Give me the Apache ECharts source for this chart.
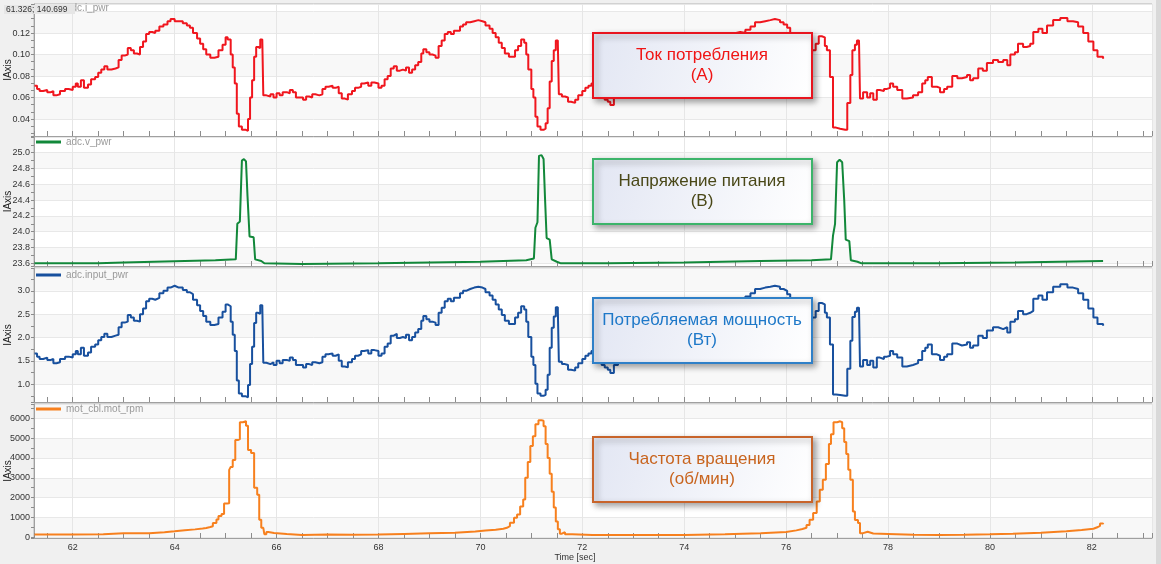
<!DOCTYPE html>
<html>
<head>
<meta charset="utf-8">
<script src="https://cdn.jsdelivr.net/npm/echarts@6/dist/echarts.min.js"></script>
<style>
html, body { margin: 0; padding: 0; background: #f0f0f0; }
#main { width: 1161px; height: 564px; }
</style>
</head>
<body>
<div id="main"></div>
<script>
// sample times (s) for current and input power
const tPwr = [
  61.25, 61.30, 61.35, 61.42, 61.50, 61.57, 61.62, 61.68, 61.75, 61.85, 61.92, 62.00, 62.06, 62.10, 62.16, 62.22,
  62.30, 62.36, 62.44, 62.50, 62.56, 62.62, 62.68, 62.76, 62.84, 62.90, 62.96, 63.02, 63.08, 63.14, 63.20, 63.26,
  63.32, 63.38, 63.44, 63.50, 63.56, 63.62, 63.70, 63.78, 63.86, 63.92, 64.00, 64.08, 64.16, 64.24, 64.30, 64.36,
  64.44, 64.50, 64.56, 64.62, 64.70, 64.78, 64.86, 64.94, 65.00, 65.04, 65.10, 65.14, 65.18, 65.22, 65.26, 65.32,
  65.40, 65.44, 65.48, 65.52, 65.56, 65.60, 65.64, 65.68, 65.72, 65.74, 65.80, 65.88, 65.94, 66.00, 66.06, 66.12,
  66.20, 66.26, 66.32, 66.38, 66.46, 66.52, 66.58, 66.64, 66.70, 66.76, 66.84, 66.90, 66.96, 67.02, 67.10, 67.16,
  67.22, 67.28, 67.34, 67.40, 67.48, 67.54, 67.60, 67.66, 67.72, 67.80, 67.86, 67.92, 68.00, 68.06, 68.12, 68.18,
  68.24, 68.30, 68.36, 68.42, 68.48, 68.54, 68.60, 68.66, 68.72, 68.78, 68.84, 68.88, 68.94, 69.00, 69.06, 69.12,
  69.18, 69.24, 69.30, 69.36, 69.42, 69.48, 69.54, 69.60, 69.66, 69.72, 69.80, 69.88, 69.96, 70.04, 70.10, 70.18,
  70.24, 70.30, 70.36, 70.42, 70.48, 70.56, 70.62, 70.68, 70.74, 70.80, 70.86, 70.90, 70.94, 71.00, 71.04, 71.08,
  71.12, 71.18, 71.24, 71.28, 71.32, 71.36, 71.40, 71.44, 71.48, 71.52, 71.54, 71.60, 71.66, 71.72, 71.78, 71.86,
  71.92, 72.00, 72.06, 72.12, 72.18, 72.24, 72.30, 72.38, 72.44, 72.50, 72.55, 72.62, 72.70, 72.78, 72.86, 72.94,
  73.02, 73.10, 73.18, 73.26, 73.34, 73.42, 73.50, 73.58, 73.66, 73.74, 73.82, 73.90, 73.98, 74.06, 74.14, 74.22,
  74.30, 74.38, 74.46, 74.54, 74.62, 74.70, 74.78, 74.86, 74.94, 75.02, 75.10, 75.20, 75.30, 75.39, 75.49, 75.59,
  75.69, 75.78, 75.88, 75.95, 76.02, 76.08, 76.16, 76.24, 76.32, 76.40, 76.46, 76.51, 76.58, 76.64, 76.70, 76.76,
  76.80, 76.86, 76.92, 76.98, 77.06, 77.16, 77.20, 77.26, 77.30, 77.35, 77.39, 77.43, 77.45, 77.51, 77.59, 77.65,
  77.71, 77.78, 77.84, 77.92, 77.98, 78.04, 78.10, 78.18, 78.28, 78.37, 78.49, 78.59, 78.67, 78.73, 78.78, 78.86,
  78.96, 79.02, 79.10, 79.16, 79.26, 79.36, 79.45, 79.55, 79.61, 79.67, 79.77, 79.86, 79.94, 80.06, 80.16, 80.26,
  80.34, 80.40, 80.49, 80.55, 80.65, 80.72, 80.79, 80.85, 80.95, 81.03, 81.12, 81.24, 81.38, 81.52, 81.63, 81.73,
  81.83, 81.93, 82.03, 82.11, 82.22
];
// adc.i_pwr, A
const curA = [
  0.071, 0.068, 0.066, 0.067, 0.065, 0.066, 0.062, 0.063, 0.066, 0.068, 0.067, 0.070, 0.073, 0.070, 0.076, 0.069,
  0.072, 0.077, 0.079, 0.083, 0.086, 0.089, 0.086, 0.087, 0.088, 0.095, 0.099, 0.100, 0.106, 0.104, 0.101, 0.100,
  0.107, 0.112, 0.119, 0.121, 0.120, 0.122, 0.126, 0.128, 0.131, 0.133, 0.131, 0.131, 0.129, 0.127, 0.125, 0.120,
  0.115, 0.110, 0.105, 0.100, 0.097, 0.098, 0.104, 0.109, 0.116, 0.114, 0.100, 0.088, 0.073, 0.045, 0.033, 0.030,
  0.029, 0.040, 0.060, 0.076, 0.098, 0.107, 0.106, 0.114, 0.114, 0.062, 0.061, 0.063, 0.060, 0.064, 0.062, 0.065,
  0.064, 0.067, 0.065, 0.060, 0.060, 0.058, 0.061, 0.060, 0.063, 0.062, 0.063, 0.068, 0.070, 0.071, 0.069, 0.070,
  0.064, 0.059, 0.058, 0.063, 0.066, 0.069, 0.070, 0.073, 0.074, 0.071, 0.074, 0.073, 0.069, 0.071, 0.077, 0.080,
  0.087, 0.089, 0.085, 0.086, 0.085, 0.088, 0.083, 0.086, 0.090, 0.093, 0.101, 0.105, 0.102, 0.100, 0.099, 0.097,
  0.108, 0.113, 0.119, 0.121, 0.119, 0.122, 0.122, 0.126, 0.128, 0.130, 0.131, 0.132, 0.131, 0.130, 0.127, 0.124,
  0.120, 0.116, 0.111, 0.106, 0.101, 0.098, 0.098, 0.104, 0.108, 0.114, 0.111, 0.100, 0.086, 0.068, 0.060, 0.042,
  0.033, 0.030, 0.031, 0.036, 0.050, 0.075, 0.094, 0.104, 0.113, 0.110, 0.063, 0.061, 0.060, 0.056, 0.055, 0.058,
  0.062, 0.066, 0.069, 0.071, 0.073, 0.069, 0.065, 0.060, 0.058, 0.056, 0.053, 0.060, 0.064, 0.066, 0.070, 0.069,
  0.072, 0.075, 0.073, 0.076, 0.079, 0.077, 0.080, 0.086, 0.088, 0.087, 0.091, 0.089, 0.094, 0.100, 0.104, 0.102,
  0.106, 0.104, 0.110, 0.114, 0.112, 0.116, 0.118, 0.117, 0.120, 0.121, 0.120, 0.123, 0.126, 0.130, 0.131, 0.132,
  0.133, 0.132, 0.130, 0.128, 0.125, 0.120, 0.114, 0.108, 0.103, 0.100, 0.101, 0.104, 0.110, 0.117, 0.116, 0.108,
  0.104, 0.079, 0.032, 0.031, 0.030, 0.030, 0.055, 0.081, 0.104, 0.109, 0.113, 0.113, 0.059, 0.065, 0.060, 0.064,
  0.058, 0.067, 0.066, 0.068, 0.069, 0.073, 0.070, 0.067, 0.059, 0.060, 0.062, 0.065, 0.073, 0.076, 0.079, 0.070,
  0.069, 0.065, 0.068, 0.070, 0.080, 0.078, 0.079, 0.081, 0.076, 0.078, 0.087, 0.085, 0.092, 0.095, 0.093, 0.095,
  0.090, 0.100, 0.102, 0.110, 0.107, 0.108, 0.110, 0.121, 0.124, 0.120, 0.127, 0.132, 0.134, 0.131, 0.130, 0.126,
  0.120, 0.112, 0.104, 0.098, 0.096
];
// adc.input_pwr, W
const pwrW = [
  1.66, 1.59, 1.54, 1.57, 1.52, 1.54, 1.45, 1.47, 1.54, 1.59, 1.57, 1.64, 1.71, 1.64, 1.78, 1.61,
  1.68, 1.80, 1.85, 1.94, 2.01, 2.08, 2.01, 2.04, 2.06, 2.22, 2.32, 2.34, 2.48, 2.43, 2.36, 2.34,
  2.50, 2.62, 2.78, 2.83, 2.81, 2.85, 2.95, 3.00, 3.07, 3.11, 3.07, 3.07, 3.02, 2.97, 2.93, 2.81,
  2.69, 2.57, 2.46, 2.34, 2.27, 2.29, 2.43, 2.55, 2.71, 2.67, 2.34, 2.06, 1.71, 1.08, 0.80, 0.74,
  0.72, 0.98, 1.43, 1.80, 2.31, 2.53, 2.51, 2.69, 2.69, 1.46, 1.43, 1.47, 1.41, 1.50, 1.45, 1.52,
  1.50, 1.57, 1.52, 1.41, 1.41, 1.36, 1.43, 1.41, 1.47, 1.45, 1.47, 1.59, 1.64, 1.66, 1.61, 1.64,
  1.50, 1.38, 1.36, 1.47, 1.54, 1.61, 1.64, 1.71, 1.73, 1.66, 1.73, 1.71, 1.61, 1.66, 1.80, 1.87,
  2.04, 2.08, 1.99, 2.01, 1.99, 2.06, 1.94, 2.01, 2.11, 2.18, 2.36, 2.46, 2.39, 2.34, 2.32, 2.27,
  2.53, 2.64, 2.78, 2.83, 2.78, 2.85, 2.85, 2.95, 3.00, 3.04, 3.07, 3.09, 3.07, 3.04, 2.97, 2.90,
  2.81, 2.71, 2.60, 2.48, 2.36, 2.29, 2.29, 2.43, 2.53, 2.67, 2.60, 2.34, 2.01, 1.59, 1.41, 1.01,
  0.80, 0.75, 0.77, 0.88, 1.20, 1.78, 2.21, 2.45, 2.65, 2.58, 1.48, 1.43, 1.41, 1.31, 1.29, 1.36,
  1.45, 1.54, 1.61, 1.66, 1.71, 1.61, 1.52, 1.41, 1.36, 1.31, 1.24, 1.41, 1.50, 1.54, 1.64, 1.61,
  1.68, 1.75, 1.71, 1.78, 1.85, 1.80, 1.87, 2.01, 2.06, 2.04, 2.13, 2.08, 2.20, 2.34, 2.43, 2.39,
  2.48, 2.43, 2.57, 2.67, 2.62, 2.71, 2.76, 2.74, 2.81, 2.83, 2.81, 2.88, 2.95, 3.04, 3.07, 3.09,
  3.11, 3.09, 3.04, 3.00, 2.93, 2.81, 2.67, 2.53, 2.41, 2.34, 2.36, 2.43, 2.57, 2.74, 2.71, 2.53,
  2.43, 1.85, 0.78, 0.77, 0.75, 0.75, 1.33, 1.93, 2.44, 2.55, 2.64, 2.64, 1.38, 1.52, 1.41, 1.50,
  1.36, 1.57, 1.54, 1.59, 1.61, 1.71, 1.64, 1.57, 1.38, 1.41, 1.45, 1.52, 1.71, 1.78, 1.85, 1.64,
  1.61, 1.52, 1.59, 1.64, 1.87, 1.83, 1.85, 1.90, 1.78, 1.83, 2.04, 1.99, 2.15, 2.22, 2.18, 2.22,
  2.11, 2.34, 2.39, 2.57, 2.50, 2.53, 2.57, 2.83, 2.90, 2.81, 2.97, 3.09, 3.14, 3.07, 3.04, 2.95,
  2.81, 2.62, 2.43, 2.29, 2.25
];
// adc.v_pwr, V
const tVolt = [
  61.25, 62.50, 63.00, 63.60, 64.20, 64.80, 65.20, 65.23, 65.28, 65.32, 65.36, 65.40, 65.43, 65.47, 65.55, 65.58,
  65.70, 65.76, 66.50, 68.00, 69.00, 70.00, 70.90, 71.05, 71.08, 71.12, 71.15, 71.20, 71.24, 71.27, 71.30, 71.36,
  71.40, 71.50, 71.58, 72.50, 74.00, 75.50, 76.50, 76.88, 76.92, 76.96, 77.00, 77.05, 77.10, 77.14, 77.17, 77.24,
  77.27, 77.40, 77.48, 79.00, 80.50, 82.22
];
const voltV = [
  23.60, 23.60, 23.61, 23.62, 23.63, 23.64, 23.65, 24.10, 24.13, 24.90, 24.92, 24.89, 24.45, 23.94, 23.93, 23.65,
  23.63, 23.60, 23.59, 23.60, 23.61, 23.62, 23.64, 23.66, 24.05, 24.12, 24.96, 24.97, 24.92, 24.40, 23.92, 23.90,
  23.65, 23.62, 23.60, 23.60, 23.61, 23.63, 23.64, 23.65, 23.95, 24.10, 24.88, 24.91, 24.88, 24.40, 23.90, 23.88,
  23.64, 23.62, 23.60, 23.60, 23.61, 23.63
];
// mot_cbl.mot_rpm
const tRpm = [
  61.25, 62.00, 62.60, 62.62, 63.00, 63.50, 63.80, 64.00, 64.20, 64.40, 64.55, 64.62, 64.70, 64.75, 64.82, 64.86,
  64.92, 64.97, 65.03, 65.07, 65.10, 65.14, 65.19, 65.24, 65.28, 65.34, 65.40, 65.44, 65.50, 65.56, 65.62, 65.66,
  65.70, 65.74, 65.76, 65.80, 65.84, 65.95, 66.20, 66.50, 67.00, 67.50, 68.00, 68.50, 69.00, 69.50, 69.90, 70.10,
  70.30, 70.45, 70.52, 70.58, 70.66, 70.72, 70.78, 70.84, 70.88, 70.93, 70.98, 71.03, 71.08, 71.14, 71.20, 71.24,
  71.28, 71.32, 71.36, 71.40, 71.44, 71.48, 71.52, 71.56, 71.60, 71.66, 71.80, 72.20, 73.00, 74.00, 74.80, 75.50,
  76.00, 76.20, 76.32, 76.40, 76.46, 76.53, 76.60, 76.66, 76.72, 76.78, 76.84, 76.88, 76.93, 77.00, 77.06, 77.10,
  77.14, 77.18, 77.22, 77.26, 77.31, 77.35, 77.41, 77.45, 77.51, 77.60, 77.71, 78.00, 78.50, 79.00, 79.50, 80.00,
  80.45, 81.00, 81.50, 81.80, 82.03, 82.12, 82.16, 82.22
];
const rpmV = [
  140, 150, 160, 200, 210, 260, 300, 360, 400, 440, 470, 520, 560, 720, 900, 1070,
  1180, 1700, 1720, 3400, 3550, 3900, 4900, 4950, 5800, 5860, 5620, 4400, 4250, 2500, 2150, 880,
  480, 400, 160, 270, 220, 170, 120, 140, 130, 140, 170, 200, 230, 290, 340, 380,
  430, 480, 560, 730, 980, 1150, 1550, 1900, 3000, 3800, 4600, 5100, 5700, 5900, 5880, 5600,
  4700, 4000, 3200, 2300, 1500, 800, 400, 180, 260, 150, 120, 110, 120, 150, 200, 270,
  350, 420, 480, 620, 880, 1220, 1800, 2400, 2900, 3700, 4700, 5200, 5800, 5850, 5800, 5500,
  4800, 4200, 3400, 2900, 1300, 870, 720, 210, 280, 190, 170, 130, 120, 130, 150, 180,
  230, 300, 370, 430, 520, 580, 700, 660
];

// tick labels
const xTicks = [62, 64, 66, 68, 70, 72, 74, 76, 78, 80, 82];
const curTicks = [0.04, 0.06, 0.08, 0.10, 0.12];
const voltTicks = [23.6, 23.8, 24.0, 24.2, 24.4, 24.6, 24.8, 25.0];
const pwrTicks = [1.0, 1.5, 2.0, 2.5, 3.0];
const rpmTicks = [0, 1000, 2000, 3000, 4000, 5000, 6000];

const seriesNames = ['adc.i_pwr', 'adc.v_pwr', 'adc.input_pwr', 'mot_cbl.mot_rpm'];
const colors = ['#f0161e', '#12883a', '#18509e', '#f7801e'];
const noteText = [
  ['Ток потребления', '(А)'],
  ['Напряжение питания', '(В)'],
  ['Потребляемая мощность', '(Вт)'],
  ['Частота вращения', '(об/мин)']
];
const noteBorder = ['#e8141e', '#3cb46a', '#2f80c8', '#c8642a'];
const noteInk = ['#f01414', '#4a4818', '#1e78c8', '#c8641e'];

const FONT = '"Liberation Sans", Arial, sans-serif';
const panels = [
  { top: 4, height: 132, min: 0.0242, max: 0.147, step: 0.02, minor: 3, ticks: curTicks, dec: 2, stepped: 'end' },
  { top: 137, height: 129, min: 23.566, max: 25.199, step: 0.2, minor: 2, ticks: voltTicks, dec: 1, stepped: false },
  { top: 268, height: 134, min: 0.618, max: 3.49, step: 0.5, minor: 2, ticks: pwrTicks, dec: 1, stepped: 'end' },
  { top: 404, height: 134, min: -35, max: 6721, step: 1000, minor: 2, ticks: rpmTicks, dec: 0, stepped: 'end' }
];
const noteTops = [33, 159, 298, 437];
const legendTops = [3, 137, 270, 404];

function zip (t, v) {
  return t.map((x, i) => [x, v[i]])
}
function inList (list, v) {
  return list.some(x => Math.abs(x - v) < 1e-7)
}

const chart = echarts.init(document.getElementById('main'))

const grids = panels.map(p => ({
  left: 34, right: 9, top: p.top, height: p.height,
  outerBoundsMode: 'none', containLabel: false,
  show: true, backgroundColor: '#ffffff', borderColor: '#b4b4b4', borderWidth: 1
}))

const xAxes = panels.map((p, i) => ({
  type: 'value', gridIndex: i, min: 61.24, max: 83.18,
  minInterval: 2, maxInterval: 2,
  axisLine: { show: true, onZero: false, lineStyle: { color: '#a0a0a0' } },
  axisTick: { show: true, inside: true, length: 5, lineStyle: { color: '#8c8c8c' } },
  minorTick: { show: true, splitNumber: 4, length: 5, lineStyle: { color: '#8c8c8c' } },
  splitLine: { show: true, lineStyle: { color: '#e6e6e6' } },
  axisLabel: {
    show: i === 3, margin: 5, fontSize: 9, color: '#333', fontFamily: FONT,
    formatter: v => inList(xTicks, v) ? String(Math.round(v)) : ''
  },
  name: i === 3 ? 'Time [sec]' : '',
  nameLocation: 'middle', nameGap: 15, nameMoveOverlap: false,
  nameTextStyle: { fontSize: 9, color: '#333', fontFamily: FONT, padding: [0, 36, 0, 0] }
}))

const yAxes = panels.map((p, i) => ({
  type: 'value', gridIndex: i, min: p.min, max: p.max,
  minInterval: p.step, maxInterval: p.step,
  axisLine: { show: true, lineStyle: { color: '#a0a0a0' } },
  axisTick: { show: true, length: 3, lineStyle: { color: '#8c8c8c' } },
  minorTick: { show: true, splitNumber: p.minor, length: 3, lineStyle: { color: '#8c8c8c' } },
  splitLine: { show: true, lineStyle: { color: '#e8e8e8' } },
  splitArea: { show: true, areaStyle: { color: ['#ffffff', '#f8f8f8'] } },
  axisLabel: {
    margin: 4, fontSize: 9, color: '#333', fontFamily: FONT,
    formatter: v => inList(p.ticks, v) ? v.toFixed(p.dec) : ''
  },
  name: 'IAxis', nameLocation: 'middle', nameGap: 21, nameRotate: 90, nameMoveOverlap: false,
  nameTextStyle: { fontSize: 10, color: '#222', fontFamily: FONT }
}))

const dataSets = [zip(tPwr, curA), zip(tVolt, voltV), zip(tPwr, pwrW), zip(tRpm, rpmV)]

// annotation boxes, flat elements
const notes = []
noteTops.forEach((y, i) => {
  notes.push({
    type: 'rect', z: 100,
    shape: { x: 593, y: y, width: 219, height: 65 },
    style: {
      fill: {
        type: 'linear', x: 0, y: 0, x2: 1, y2: 1,
        colorStops: [{ offset: 0, color: '#e2e6f3' }, { offset: 1, color: '#ffffff' }]
      },
      stroke: noteBorder[i], lineWidth: 2,
      shadowBlur: 6, shadowOffsetX: 3, shadowOffsetY: 3, shadowColor: 'rgba(0,0,0,0.35)'
    }
  })
  noteText[i].forEach((s, k) => {
    notes.push({
      type: 'text', z: 101, x: 702, y: y + 22 + k * 20,
      style: { text: s, fill: noteInk[i], font: '17px ' + FONT, textAlign: 'center', textVerticalAlign: 'middle' }
    })
  })
})

chart.setOption({
  animation: false,
  backgroundColor: '#f0f0f0',
  grid: grids,
  xAxis: xAxes,
  yAxis: yAxes,
  legend: seriesNames.map((n, i) => ({
    data: [n], left: 36, top: legendTops[i], icon: 'rect', itemWidth: 25, itemHeight: 3,
    selectedMode: false, padding: 0,
    textStyle: { color: '#9a9a9a', fontSize: 10, fontFamily: FONT }
  })),
  series: seriesNames.map((n, i) => ({
    name: n, type: 'line', xAxisIndex: i, yAxisIndex: i,
    data: dataSets[i], showSymbol: false, symbol: 'none', step: panels[i].stepped,
    lineStyle: { color: colors[i], width: 2 }, itemStyle: { color: colors[i] }
  })),
  graphic: [
    { type: 'rect', z: 90, shape: { x: 1156, y: 0, width: 5, height: 564 }, style: { fill: '#d9d9d9' } },
    { type: 'rect', z: 90, shape: { x: 4, y: 5, width: 71, height: 9 }, style: { fill: '#e6e6e6' } },
    { type: 'text', z: 91, x: 6, y: 9.5, style: { text: '61.326; 140.699', fill: '#333', font: '8.5px ' + FONT, textVerticalAlign: 'middle' } }
  ].concat(notes)
})
</script>
</body>
</html>
